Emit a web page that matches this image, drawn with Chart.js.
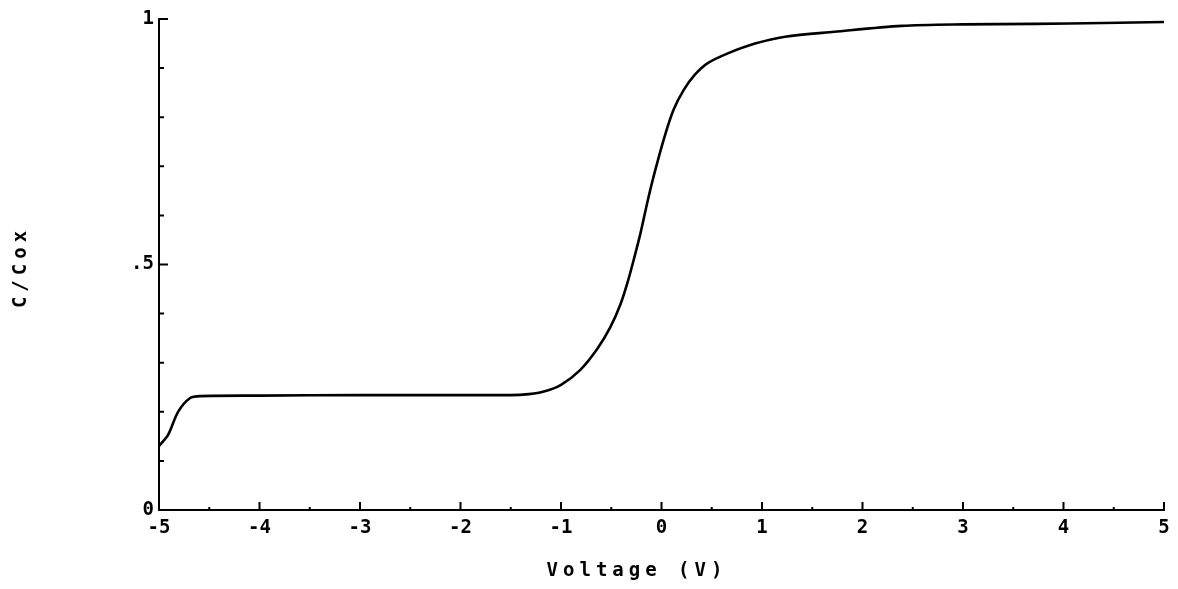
<!DOCTYPE html>
<html>
<head>
<meta charset="utf-8">
<script src="https://cdn.jsdelivr.net/npm/chart.js@4/dist/chart.umd.min.js"></script>
<style>
  html, body { margin: 0; padding: 0; background: #fff; }
  #wrap { width: 1178px; height: 589px; position: relative; }
</style>
</head>
<body>
<div id="wrap"><canvas id="c" width="1178" height="589"></canvas></div>
<script>
// ---- data ----
const voltage = [-5.0, -4.91, -4.81, -4.69, -4.59, -4.0, -3.0, -2.0, -1.6, -1.38, -1.18, -1.0, -0.81, -0.64, -0.51, -0.41, -0.34, -0.276, -0.209, -0.136, -0.07, 0.03, 0.12, 0.22, 0.33, 0.46, 0.66, 0.93, 1.23, 1.72, 2.39, 3.0, 3.71, 4.4, 5.0];
const capRatio = [0.130, 0.153, 0.200, 0.228, 0.232, 0.233, 0.234, 0.234, 0.234, 0.235, 0.241, 0.255, 0.285, 0.328, 0.372, 0.418, 0.462, 0.510, 0.564, 0.631, 0.686, 0.760, 0.815, 0.855, 0.886, 0.910, 0.930, 0.950, 0.964, 0.974, 0.986, 0.989, 0.990, 0.992, 0.994];
const xTickValues = [-5, -4, -3, -2, -1, 0, 1, 2, 3, 4, 5];
const yLabelled = { 0: '0', 0.5: '.5', 1: '1' };
const xTitle = 'Voltage (V)';
const yTitle = 'C/Cox';

const FONT = '"DejaVu Sans Mono", "Liberation Mono", monospace';

const points = voltage.map((v, i) => ({ x: v, y: capRatio[i] }));

// inward tick marks + axis titles
const plotterPlugin = {
  id: 'plotter',
  afterDraw(chart) {
    const ctx = chart.ctx;
    const xs = chart.scales.x, ys = chart.scales.y;
    const area = chart.chartArea;
    ctx.save();
    ctx.strokeStyle = '#000';
    ctx.lineWidth = 2;
    ctx.beginPath();
    // x ticks (pointing up into plot)
    for (let v = -5; v <= 5.0001; v += 0.5) {
      const px = xs.getPixelForValue(v);
      const major = Math.abs(v - Math.round(v)) < 1e-6;
      const len = major ? 8 : 3;
      ctx.moveTo(px, area.bottom);
      ctx.lineTo(px, area.bottom - len);
    }
    // y ticks (pointing right into plot)
    for (let k = 0; k <= 10; k++) {
      const val = k / 10;
      const py = ys.getPixelForValue(val);
      const len = (k === 5 || k === 10) ? 9 : 5;
      ctx.moveTo(area.left, py);
      ctx.lineTo(area.left + len, py);
    }
    ctx.stroke();

    // axis titles
    ctx.fillStyle = '#000';
    ctx.font = 'bold 19px ' + FONT;
    if ('letterSpacing' in ctx) ctx.letterSpacing = '5px';
    ctx.textAlign = 'center';
    ctx.textBaseline = 'middle';
    ctx.fillText(xTitle, 637, 571);
    ctx.translate(21, 267);
    ctx.rotate(-Math.PI / 2);
    ctx.fillText(yTitle, 0, 0);
    ctx.restore();
  }
};

new Chart(document.getElementById('c'), {
  type: 'scatter',
  data: {
    datasets: [{
      data: points,
      showLine: true,
      borderColor: '#000',
      borderWidth: 2.6,
      pointRadius: 0,
      pointHoverRadius: 0,
      fill: false,
      tension: 0.3
    }]
  },
  options: {
    responsive: false,
    animation: false,
    events: [],
    layout: { padding: { left: 0, right: 14, top: 19, bottom: 0 } },
    plugins: { legend: { display: false }, tooltip: { enabled: false } },
    scales: {
      x: {
        type: 'linear',
        min: -5, max: 5,
        afterFit(scale) { scale.height = 79; },
        afterBuildTicks(scale) { scale.ticks = xTickValues.map(v => ({ value: v })); },
        border: { display: true, color: '#000', width: 2 },
        grid: { drawOnChartArea: false, drawTicks: false },
        ticks: {
          color: '#000',
          padding: 7,
          maxRotation: 0,
          autoSkip: false,
          font: { family: FONT, size: 19, weight: 'bold' }
        }
      },
      y: {
        type: 'linear',
        min: 0, max: 1,
        afterFit(scale) { scale.width = 159; },
        border: { display: true, color: '#000', width: 2 },
        grid: { drawOnChartArea: false, drawTicks: false },
        ticks: {
          stepSize: 0.1,
          color: '#000',
          padding: 5,
          autoSkip: false,
          font: { family: FONT, size: 19, weight: 'bold' },
          callback(value) {
            const key = Math.round(value * 10) / 10;
            return (key in yLabelled && Math.abs(value - key) < 1e-6) ? yLabelled[key] : '';
          }
        }
      }
    }
  },
  plugins: [plotterPlugin]
});
</script>
</body>
</html>
